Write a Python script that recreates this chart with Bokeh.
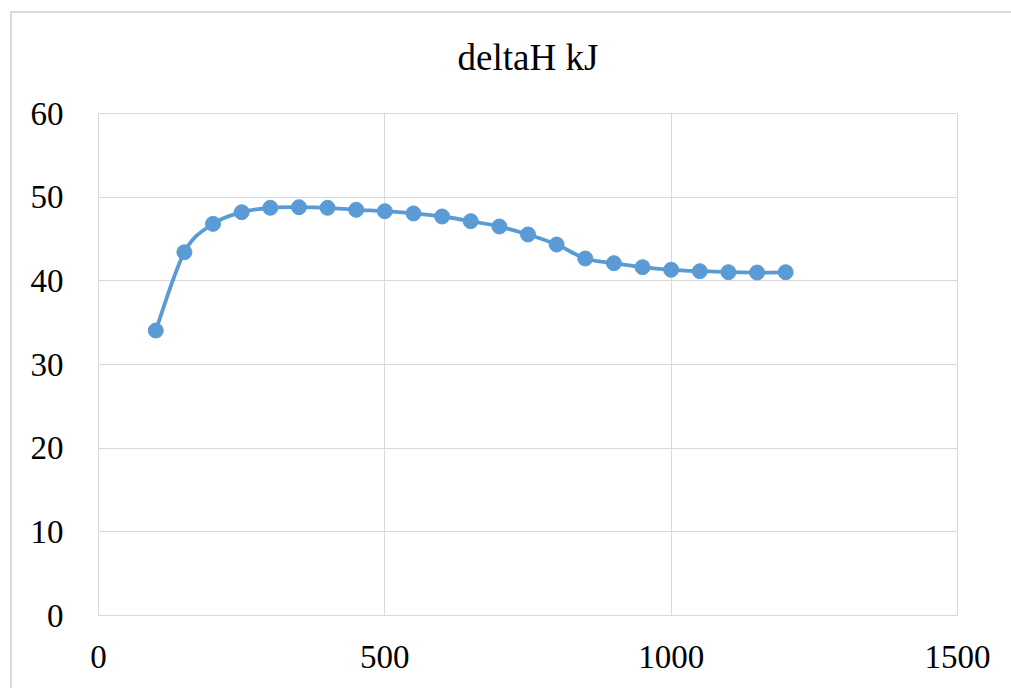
import numpy as np
from bokeh.plotting import figure
from bokeh.models import Range1d, FixedTicker, ColumnDataSource
from bokeh.embed import file_html
from bokeh.resources import INLINE

title_text = "deltaH kJ"
temps = [100, 150, 200, 250, 300, 350, 400, 450, 500, 550, 600, 650,
         700, 750, 800, 850, 900, 950, 1000, 1050, 1100, 1150, 1200]
delta_h = [34.06, 43.42, 46.81, 48.20, 48.73, 48.80, 48.73, 48.49, 48.32,
           48.05, 47.69, 47.13, 46.49, 45.54, 44.34, 42.67, 42.11, 41.63,
           41.32, 41.15, 41.03, 40.99, 41.03]
x_ticks = [0, 500, 1000, 1500]
y_ticks = [0, 10, 20, 30, 40, 50, 60]

SERIES = "#5B9BD5"
GRID = "#D9D9D9"
FONT = "Liberation Serif"

p = figure(width=1011, height=688, output_backend="svg", toolbar_location=None,
           x_range=Range1d(0, 1500), y_range=Range1d(0, 60),
           min_border_left=98, min_border_right=54, min_border_top=113,
           min_border_bottom=73)

p.title.text = title_text
p.title.align = "center"
p.title.vertical_align = "top"
p.title.text_font = FONT
p.title.text_font_size = "37px"
p.title.text_font_style = "normal"
p.title.text_color = "#000000"
p.title.standoff = 68

p.outline_line_color = GRID
p.background_fill_color = "white"
p.border_fill_color = None
# outer chart border drawn as page decoration behind the transparent canvas
p.styles = {
    "background": ("linear-gradient(#D9D9D9,#D9D9D9) 10px 11px / 2px 100% no-repeat, "
                   "linear-gradient(#D9D9D9,#D9D9D9) 10px 11px / 100% 2px no-repeat, "
                   "white"),
}

for ax in (p.xaxis, p.yaxis):
    ax.axis_line_color = GRID
    ax.major_tick_line_color = None
    ax.minor_tick_line_color = None
    ax.major_label_text_font = FONT
    ax.major_label_text_font_size = "33px"
    ax.major_label_text_color = "#000000"
p.xaxis.ticker = FixedTicker(ticks=x_ticks)
p.yaxis.ticker = FixedTicker(ticks=y_ticks)
p.xaxis.major_label_standoff = 24
p.yaxis.major_label_standoff = 29

p.xgrid.ticker = FixedTicker(ticks=x_ticks)
p.ygrid.ticker = FixedTicker(ticks=y_ticks)
p.xgrid.grid_line_color = GRID
p.ygrid.grid_line_color = GRID

# smooth line (Catmull-Rom style Bezier, as in spreadsheet smoothed lines)
xs = np.array(temps, dtype=float)
ys = np.array(delta_h, dtype=float)
x0, y0 = xs[:-1], ys[:-1]
x1, y1 = xs[1:], ys[1:]
xp = np.concatenate([[xs[0]], xs[:-2]])
yp = np.concatenate([[ys[0]], ys[:-2]])
xn = np.concatenate([xs[2:], [xs[-1]]])
yn = np.concatenate([ys[2:], [ys[-1]]])
cx0 = x0 + (x1 - xp) / 6.0
cy0 = y0 + (y1 - yp) / 6.0
cx1 = x1 - (xn - x0) / 6.0
cy1 = y1 - (yn - y0) / 6.0
bsrc = ColumnDataSource(dict(x0=x0, y0=y0, x1=x1, y1=y1,
                             cx0=cx0, cy0=cy0, cx1=cx1, cy1=cy1))
p.bezier(x0="x0", y0="y0", x1="x1", y1="y1", cx0="cx0", cy0="cy0",
         cx1="cx1", cy1="cy1", source=bsrc, line_color=SERIES, line_width=3.8)

p.scatter(temps, delta_h, size=15, marker="circle", fill_color=SERIES,
          line_color=SERIES)

open("out.html", "w").write(file_html(p, INLINE))
